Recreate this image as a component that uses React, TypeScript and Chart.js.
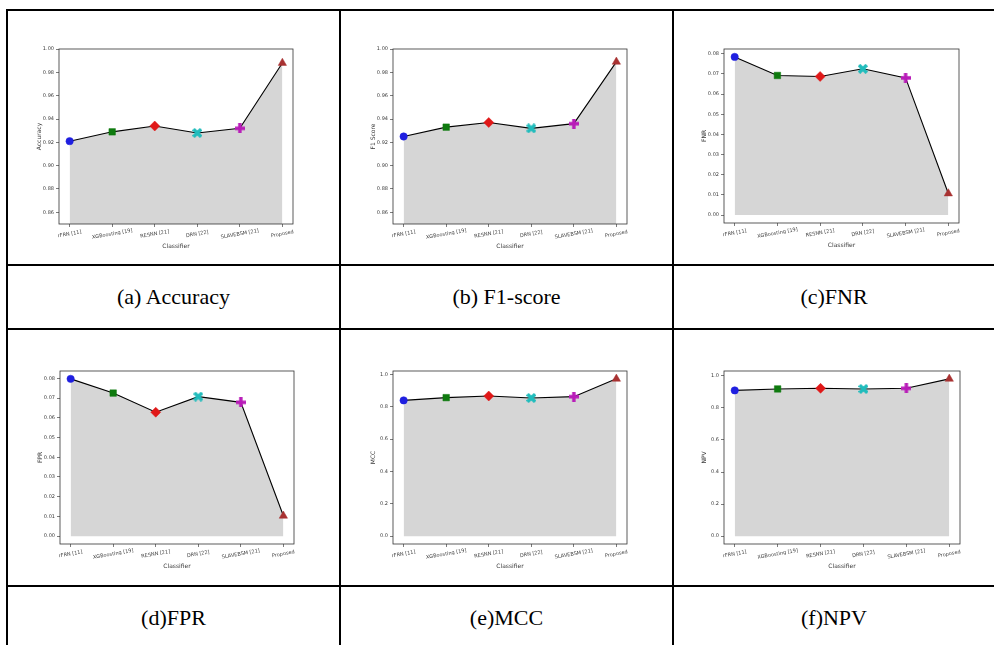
import React, { useEffect, useRef } from "react";
import { Chart, registerables } from "chart.js";

Chart.register(...registerables);

// Classifiers on the x axis
const categories = ["rFRN [11]", "XGBoosting [19]", "RESNN [21]", "DRN [22]", "SLAVEBSM [21]", "Proposed"];

// Metric values per classifier
const accuracy = [0.921, 0.929, 0.934, 0.928, 0.932, 0.988];
const f1Score = [0.925, 0.933, 0.937, 0.932, 0.936, 0.989];
const fnr = [0.0784, 0.0692, 0.0687, 0.0725, 0.068, 0.0107];
const fpr = [0.0797, 0.0725, 0.0628, 0.0707, 0.0678, 0.0103];
const mcc = [0.839, 0.856, 0.866, 0.854, 0.862, 0.972];
const npv = [0.909, 0.918, 0.922, 0.918, 0.922, 0.981];

// Y tick labels
const scoreTicks = [0.86, 0.88, 0.9, 0.92, 0.94, 0.96, 0.98, 1.0];
const rateTicks = [0.0, 0.01, 0.02, 0.03, 0.04, 0.05, 0.06, 0.07, 0.08];
const unitTicks = [0.0, 0.2, 0.4, 0.6, 0.8, 1.0];

// Marker colours per classifier
const markerColors = ["#1f1fe0", "#0f7a0f", "#e01818", "#20bcbc", "#b81cb8", "#a83232"];

const captions = ["(a) Accuracy", "(b) F1-score", "(c)FNR", "(d)FPR", "(e)MCC", "(f)NPV"];

type PanelDef = {
  yTitle: string;
  values: number[];
  ticks: number[];
  digits: number;
  fixedRange?: [number, number];
  frame: [number, number, number, number];
};

const panels: PanelDef[] = [
  { yTitle: "Accuracy", values: accuracy, ticks: scoreTicks, digits: 2, fixedRange: [0.85, 1.0], frame: [59, 49, 293, 224] },
  { yTitle: "F1 Score", values: f1Score, ticks: scoreTicks, digits: 2, fixedRange: [0.85, 1.0], frame: [393, 49, 627, 224] },
  { yTitle: "FNR", values: fnr, ticks: rateTicks, digits: 2, frame: [724, 49, 959, 223] },
  { yTitle: "FPR", values: fpr, ticks: rateTicks, digits: 2, frame: [60, 371, 294, 544] },
  { yTitle: "MCC", values: mcc, ticks: unitTicks, digits: 1, frame: [393, 371, 627, 544] },
  { yTitle: "NPV", values: npv, ticks: unitTicks, digits: 1, frame: [724, 371, 960, 544] },
];

const PAD_L = 48;
const PAD_T = 20;
const PAD_R = 16;
const PAD_B = 40;
const TEXT = "#3a3a3a";
const FONT = "'DejaVu Sans'";

// Filled plus / X marker drawn onto a small canvas
function crossMarker(kind: "x" | "plus", color: string, size = 10): HTMLCanvasElement {
  const c = document.createElement("canvas");
  c.width = size;
  c.height = size;
  const g = c.getContext("2d")!;
  g.fillStyle = color;
  g.translate(size / 2, size / 2);
  if (kind === "x") g.rotate(Math.PI / 4);
  const a = kind === "x" ? size * 0.55 : size * 0.5;
  const w = size * 0.17;
  g.beginPath();
  g.moveTo(-w, -a);
  g.lineTo(w, -a);
  g.lineTo(w, -w);
  g.lineTo(a, -w);
  g.lineTo(a, w);
  g.lineTo(w, w);
  g.lineTo(w, a);
  g.lineTo(-w, a);
  g.lineTo(-w, w);
  g.lineTo(-a, w);
  g.lineTo(-a, -w);
  g.lineTo(-w, -w);
  g.closePath();
  g.fill();
  return c;
}

function Panel({ def }: { def: PanelDef }) {
  const ref = useRef<HTMLCanvasElement>(null);
  const [l, t, r, b] = def.frame;
  const width = r - l + PAD_L + PAD_R;
  const height = b - t + PAD_T + PAD_B;

  useEffect(() => {
    if (!ref.current) return;
    let lo: number;
    let hi: number;
    if (def.fixedRange) {
      [lo, hi] = def.fixedRange;
    } else {
      const top = Math.max(...def.values);
      lo = -0.05 * top;
      hi = top * 1.05;
    }

    const pointStyles: any[] = [
      "circle",
      "rect",
      "rectRot",
      crossMarker("x", markerColors[3]),
      crossMarker("plus", markerColors[4]),
      "triangle",
    ];

    const framePlugin = {
      id: "frameAndLabels",
      afterDraw(chart: any) {
        const { ctx, chartArea: a } = chart;
        const xs = chart.scales.x;
        ctx.save();
        ctx.strokeStyle = "#333";
        ctx.lineWidth = 0.8;
        ctx.strokeRect(a.left, a.top, a.right - a.left, a.bottom - a.top);

        ctx.fillStyle = TEXT;
        ctx.textAlign = "center";
        ctx.textBaseline = "middle";
        ctx.font = `5px ${FONT}`;
        categories.forEach((c, i) => {
          const x = xs.getPixelForValue(i);
          ctx.save();
          ctx.translate(x, a.bottom + 10);
          ctx.rotate((-10 * Math.PI) / 180);
          ctx.fillText(c, 0, 0);
          ctx.restore();
        });

        ctx.font = `6px ${FONT}`;
        ctx.fillText("Classifier", (a.left + a.right) / 2, a.bottom + 22);

        ctx.save();
        ctx.translate(a.left - 20, (a.top + a.bottom) / 2);
        ctx.rotate(-Math.PI / 2);
        ctx.fillText(def.yTitle, 0, 0);
        ctx.restore();
        ctx.restore();
      },
    };

    const gridOpts = {
      display: true,
      drawOnChartArea: false,
      drawTicks: true,
      tickLength: 3,
      color: "#444",
      lineWidth: 0.7,
    };

    const chart = new Chart(ref.current, {
      type: "line",
      data: {
        datasets: [
          {
            data: def.values.map((v, i) => ({ x: i, y: v })),
            borderColor: "#000",
            borderWidth: 1.1,
            backgroundColor: "#d6d6d6",
            fill: "origin",
            pointStyle: pointStyles,
            pointRadius: [3.7, 4.6, 5, 4, 4, 4.8],
            pointBackgroundColor: markerColors,
            pointBorderColor: markerColors,
            pointBorderWidth: 0.5,
            tension: 0,
          },
        ],
      },
      options: {
        responsive: false,
        animation: false,
        devicePixelRatio: 1,
        layout: { padding: { left: 0, top: PAD_T, right: PAD_R, bottom: 0 }, autoPadding: false },
        plugins: { legend: { display: false }, tooltip: { enabled: false } },
        scales: {
          x: {
            type: "linear",
            min: -0.25,
            max: 5.25,
            afterBuildTicks: (s: any) => {
              s.ticks = categories.map((_, i) => ({ value: i }));
            },
            afterFit: (s: any) => {
              s.height = PAD_B;
            },
            ticks: { display: false },
            grid: gridOpts,
            border: { display: false },
          },
          y: {
            type: "linear",
            min: lo,
            max: hi,
            afterBuildTicks: (s: any) => {
              s.ticks = def.ticks.map((v) => ({ value: v }));
            },
            afterFit: (s: any) => {
              s.width = PAD_L;
            },
            ticks: {
              font: { size: 5, family: "DejaVu Sans" },
              color: TEXT,
              padding: 2,
              callback: (v: any) => Number(v).toFixed(def.digits),
            },
            grid: gridOpts,
            border: { display: false },
          },
        },
      } as any,
      plugins: [framePlugin],
    });
    return () => chart.destroy();
  }, [def]);

  return (
    <canvas
      ref={ref}
      width={width}
      height={height}
      style={{ position: "absolute", left: l - PAD_L, top: t - PAD_T, width, height }}
    />
  );
}

const line = (left: number, top: number, width: number, height: number, key: string) => (
  <div key={key} style={{ position: "absolute", left, top, width, height, background: "#000" }} />
);

export default function App() {
  const cols: [number, number][] = [
    [8, 339],
    [341, 672],
    [674, 994],
  ];
  const captionRows: [number, number][] = [
    [266, 328],
    [588, 648],
  ];
  return (
    <div style={{ position: "absolute", left: 0, top: 0, width: 994, height: 645, background: "#fff", overflow: "hidden" }}>
      {panels.map((p, i) => (
        <Panel key={i} def={p} />
      ))}
      {line(6, 9, 988, 2, "top")}
      {line(6, 9, 2, 636, "left")}
      {line(339, 9, 2, 636, "v1")}
      {line(672, 9, 2, 636, "v2")}
      {line(6, 264, 988, 2, "h1")}
      {line(6, 328, 988, 2, "h2")}
      {line(6, 585, 988, 2, "h3")}
      {captions.map((c, i) => {
        const [x0, x1] = cols[i % 3];
        const [y0, y1] = captionRows[Math.floor(i / 3)];
        return (
          <div
            key={c}
            style={{
              position: "absolute",
              left: x0,
              top: y0,
              width: x1 - x0,
              height: y1 - y0,
              display: "flex",
              alignItems: "center",
              justifyContent: "center",
              fontFamily: "'Liberation Serif', serif",
              fontSize: 22,
              color: "#000",
            }}
          >
            {c}
          </div>
        );
      })}
    </div>
  );
}
